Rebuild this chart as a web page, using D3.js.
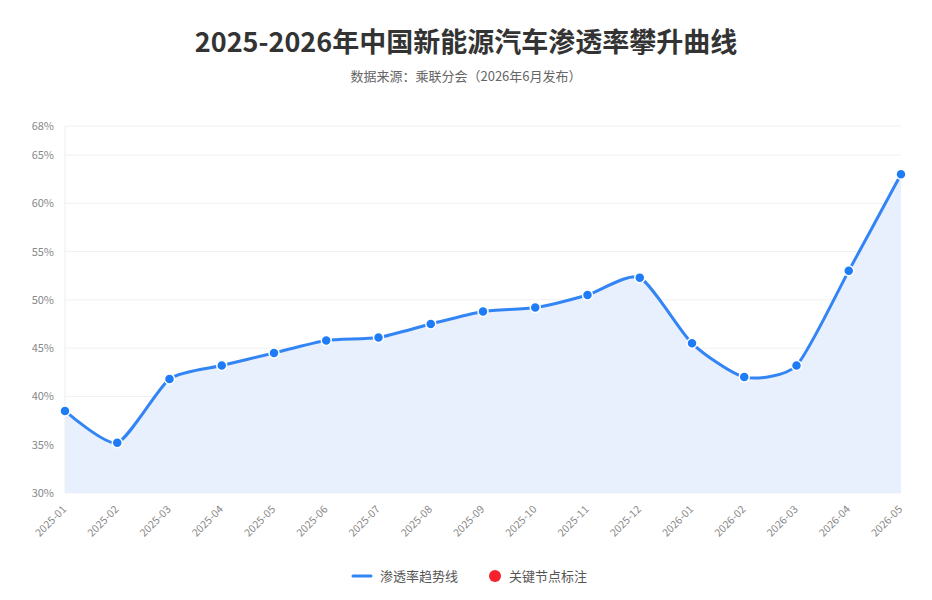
<!DOCTYPE html>
<html>
<head>
<meta charset="utf-8">
<script src="https://cdn.jsdelivr.net/npm/d3@7/dist/d3.min.js"></script>
<style>
body{margin:0;background:#fff;font-family:"Noto Sans CJK SC","Noto Sans",sans-serif;}
</style>
</head>
<body>
<svg id="chart" width="932" height="600"></svg>
<script>
// 数据
var months = ["2025-01","2025-02","2025-03","2025-04","2025-05","2025-06","2025-07","2025-08","2025-09","2025-10","2025-11","2025-12","2026-01","2026-02","2026-03","2026-04","2026-05"];
var rates = [38.5,35.2,41.8,43.2,44.5,45.8,46.1,47.5,48.8,49.2,50.5,52.3,45.5,42.0,43.2,53.0,63.0];
var yTicks = [30,35,40,45,50,55,60,65,68];

var svg = d3.select("#chart");
var pLeft = 65, pRight = 901, pTop = 126, pBottom = 493;

// 标题
svg.append("text").attr("x",466).attr("y",52).attr("text-anchor","middle")
   .attr("font-size",27).attr("font-weight","bold").attr("fill","#333")
   .text("2025-2026年中国新能源汽车渗透率攀升曲线");
svg.append("text").attr("x",466).attr("y",81).attr("text-anchor","middle")
   .attr("font-size",13).attr("fill","#666")
   .text("数据来源：乘联分会（2026年6月发布）");

var x = d3.scalePoint().domain(months).range([pLeft,pRight]);
var y = d3.scaleLinear().domain([30,68]).range([pBottom,pTop]);

// 网格线
svg.append("g").selectAll("line").data(yTicks).join("line")
   .attr("x1",pLeft).attr("x2",pRight)
   .attr("y1",d=>y(d)).attr("y2",d=>y(d))
   .attr("stroke","#f0f0f0").attr("stroke-width",1);

svg.append("g").selectAll("text").data(yTicks).join("text")
   .attr("x",54).attr("y",d=>y(d)+4).attr("text-anchor","end")
   .attr("font-size",11).attr("fill","#888")
   .text(d=>d+"%");

// 面积 + 曲线
var curve = d3.curveCardinal.tension(0.35);
var area = d3.area().x((d,i)=>x(months[i])).y0(pBottom).y1(d=>y(d)).curve(curve);
var line = d3.line().x((d,i)=>x(months[i])).y(d=>y(d)).curve(curve);

svg.append("path").datum(rates).attr("d",area).attr("fill","#e8f0fd");
svg.append("line").attr("x1",pLeft).attr("x2",pLeft).attr("y1",pTop).attr("y2",pBottom)
   .attr("stroke","#eeeeee");
svg.append("path").datum(rates).attr("d",line)
   .attr("fill","none").attr("stroke","#3385f5").attr("stroke-width",3);

svg.append("g").selectAll("circle").data(rates).join("circle")
   .attr("cx",(d,i)=>x(months[i])).attr("cy",d=>y(d)).attr("r",5)
   .attr("fill","#1f7cf7").attr("stroke","#fff").attr("stroke-width",1.5);

// x轴标签
svg.append("g").selectAll("text").data(months).join("text")
   .attr("transform",d=>"translate("+(x(d)+2)+","+(pBottom+17)+") rotate(-45)")
   .attr("text-anchor","end").attr("font-size",10.5).attr("fill","#888")
   .text(d=>d);

// 图例
var lg = svg.append("g");
lg.append("line").attr("x1",353).attr("x2",371).attr("y1",576).attr("y2",576)
  .attr("stroke","#3385f5").attr("stroke-width",3).attr("stroke-linecap","round");
lg.append("text").attr("x",380).attr("y",581).attr("font-size",13).attr("fill","#555").text("渗透率趋势线");
lg.append("circle").attr("cx",495).attr("cy",576).attr("r",6).attr("fill","#f5222d");
lg.append("text").attr("x",509).attr("y",581).attr("font-size",13).attr("fill","#555").text("关键节点标注");
</script>
</body>
</html>
